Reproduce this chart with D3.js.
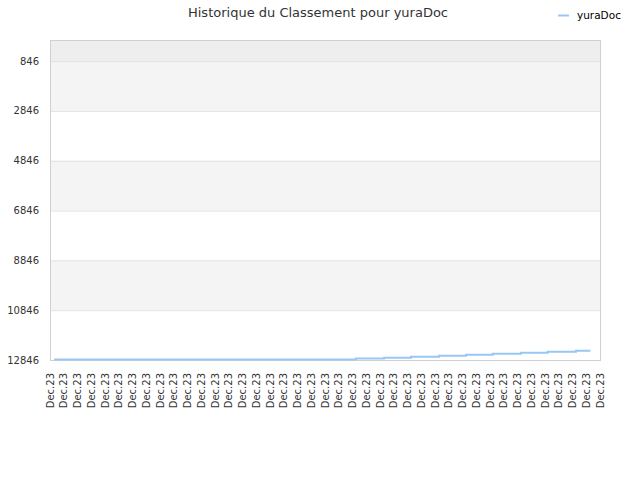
<!DOCTYPE html>
<html><head><meta charset="utf-8">
<script src="https://cdn.jsdelivr.net/npm/d3@7"></script>
<style>body{margin:0;background:#fff;} text{font-family:"DejaVu Sans",sans-serif;}</style>
</head><body>
<svg id="c" width="640" height="480"></svg>
<script>
const title = "Historique du Classement pour yuraDoc";
const seriesName = "yuraDoc";
const xLabels = Array(41).fill("Dec.23");
const yTicks = [846, 2846, 4846, 6846, 8846, 10846, 12846];
// x positions (in label-index units) and rank values of the step series
const pointX = [0.3, 22.25, 24.3, 26.25, 28.3, 30.25, 32.2, 34.25, 36.2, 38.25, 39.3];
const ranks  = [12826, 12786, 12755, 12715, 12675, 12635, 12595, 12555, 12515, 12475, 12475];

const svg = d3.select("#c");
const L = 50, R = 600, T = 40, B = 360;
const x = d3.scaleLinear().domain([0, xLabels.length - 1]).range([L, R]);
const y = d3.scaleLinear().domain([0, 12846]).range([T, B]);

// bands
const edges = [0].concat(yTicks);
for (let i = 0; i < edges.length - 1; i++) {
  const fill = i === 0 ? "#eeeeee" : (i % 2 === 1 ? "#f4f4f4" : "#ffffff");
  svg.append("rect").attr("x", L).attr("width", R - L)
    .attr("y", y(edges[i])).attr("height", y(edges[i + 1]) - y(edges[i]))
    .attr("fill", fill);
}
// grid
svg.selectAll("line.g").data(yTicks).enter().append("line")
  .attr("x1", L).attr("x2", R).attr("y1", d => y(d) + 0.5).attr("y2", d => y(d) + 0.5)
  .attr("stroke", "#e2e2e2").attr("stroke-width", 1);
// border
svg.append("rect").attr("x", L + 0.5).attr("y", T + 0.5).attr("width", R - L).attr("height", B - T)
  .attr("fill", "none").attr("stroke", "#d0d0d0");

// y axis labels
svg.selectAll("text.y").data(yTicks).enter().append("text")
  .attr("x", 39).attr("y", d => y(d)).attr("dy", "0.35em")
  .attr("text-anchor", "end").attr("font-size", 10).attr("fill", "#333")
  .text(d => d);

// x labels
svg.selectAll("text.x").data(xLabels).enter().append("text")
  .attr("transform", (d, i) => `translate(${x(i)},373) rotate(-90)`)
  .attr("dy", "0.35em").attr("text-anchor", "end")
  .attr("font-size", 10).attr("fill", "#333").text(d => d);

// series
const data = pointX.map((px, i) => [px, ranks[i]]);
svg.append("path").datum(data)
  .attr("d", d3.line().x(d => x(d[0])).y(d => y(d[1])).curve(d3.curveStepAfter))
  .attr("fill", "none").attr("stroke", "#99c7f5").attr("stroke-width", 2);

// title
svg.append("text").attr("x", 318).attr("y", 17).attr("text-anchor", "middle")
  .attr("font-size", 13).attr("fill", "#333").text(title);

// legend
svg.append("line").attr("x1", 558).attr("x2", 569).attr("y1", 15.5).attr("y2", 15.5)
  .attr("stroke", "#99c7f5").attr("stroke-width", 2);
svg.append("text").attr("x", 577).attr("y", 19).attr("font-size", 10.5).attr("fill", "#000")
  .text(seriesName);
</script>
</body></html>
